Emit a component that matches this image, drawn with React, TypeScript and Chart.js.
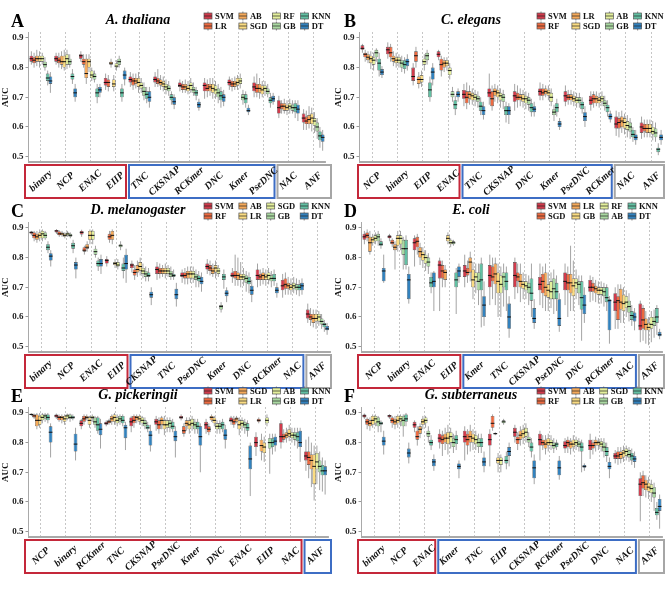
import React, { useEffect, useRef } from "react";
import { Chart, registerables } from "chart.js";
Chart.register(...registerables);

// ---------- shared data ----------
const yTicks = [0.5, 0.6, 0.7, 0.8, 0.9];
const yMin = 0.482;
const yMax = 0.92;
const palette = ["#d23a4b", "#ee6a40", "#f6aa5a", "#fbdc82", "#e4f09c", "#aad9a1", "#62c0a3", "#3282be"];
const bandPalette: Record<string, string> = { red: "#c4283a", blue: "#3d6dc4", gray: "#a6a6a6" };

// box tuples: [whiskerLow, q1, median, q3, whiskerHigh]
// ---------- Panel A ----------
const letterA = "A";
const titleA = "A. thaliana";
const clsA = ["SVM", "LR", "AB", "SGD", "RF", "GB", "KNN", "DT"];
const featA = ["binary", "NCP", "ENAC", "EIIP", "TNC", "CKSNAP", "RCKmer", "DNC", "Kmer", "PseDNC", "NAC", "ANF"];
const bandsA: [number, string][] = [[4, "red"], [6, "blue"], [2, "gray"]];
const boxesA = [
  [[0.81,0.82,0.83,0.84,0.855],[0.80,0.815,0.825,0.835,0.85],[0.805,0.82,0.83,0.84,0.86],[0.80,0.82,0.83,0.84,0.855],[0.81,0.82,0.83,0.84,0.85],[0.79,0.80,0.81,0.82,0.835],[0.74,0.755,0.765,0.78,0.79],[0.715,0.745,0.755,0.77,0.785]],
  [[0.81,0.82,0.83,0.84,0.85],[0.80,0.815,0.825,0.835,0.85],[0.795,0.81,0.82,0.84,0.855],[0.79,0.80,0.82,0.84,0.86],[0.795,0.81,0.83,0.845,0.86],[0.80,0.81,0.82,0.83,0.845],[0.745,0.76,0.77,0.78,0.795],[0.685,0.70,0.715,0.73,0.745]],
  [[0.82,0.83,0.84,0.845,0.855],[0.80,0.81,0.82,0.83,0.845],[0.745,0.765,0.78,0.83,0.845],[0.785,0.80,0.82,0.83,0.845],[0.755,0.765,0.775,0.79,0.80],[0.75,0.76,0.77,0.78,0.79],[0.68,0.70,0.715,0.73,0.745],[0.70,0.715,0.725,0.735,0.745]],
  [[0.725,0.74,0.75,0.765,0.78],[0.72,0.735,0.75,0.76,0.775],[0.80,0.81,0.815,0.82,0.83],[0.72,0.735,0.745,0.76,0.775],[0.79,0.80,0.805,0.815,0.825],[0.80,0.81,0.82,0.83,0.84],[0.685,0.70,0.715,0.73,0.745],[0.74,0.76,0.775,0.79,0.80]],
  [[0.735,0.75,0.76,0.77,0.785],[0.725,0.74,0.755,0.765,0.78],[0.73,0.745,0.755,0.765,0.78],[0.715,0.735,0.75,0.765,0.785],[0.715,0.73,0.74,0.75,0.765],[0.69,0.705,0.72,0.735,0.75],[0.68,0.695,0.71,0.72,0.735],[0.665,0.685,0.70,0.72,0.735]],
  [[0.735,0.75,0.76,0.77,0.785],[0.735,0.745,0.755,0.765,0.795],[0.725,0.74,0.75,0.76,0.775],[0.72,0.735,0.745,0.755,0.77],[0.71,0.725,0.735,0.745,0.76],[0.705,0.72,0.73,0.74,0.755],[0.675,0.69,0.70,0.71,0.72],[0.66,0.675,0.685,0.70,0.71]],
  [[0.72,0.735,0.74,0.75,0.76],[0.715,0.725,0.735,0.745,0.755],[0.715,0.725,0.735,0.745,0.76],[0.71,0.72,0.73,0.74,0.755],[0.715,0.725,0.74,0.75,0.765],[0.705,0.715,0.725,0.735,0.75],[0.69,0.705,0.715,0.725,0.735],[0.655,0.665,0.675,0.685,0.695]],
  [[0.695,0.72,0.74,0.75,0.765],[0.70,0.72,0.73,0.745,0.76],[0.705,0.72,0.735,0.745,0.765],[0.695,0.715,0.73,0.745,0.765],[0.695,0.71,0.725,0.74,0.755],[0.68,0.70,0.715,0.73,0.745],[0.665,0.69,0.705,0.72,0.735],[0.67,0.685,0.70,0.71,0.725]],
  [[0.725,0.74,0.75,0.76,0.77],[0.72,0.735,0.745,0.755,0.765],[0.725,0.735,0.745,0.755,0.77],[0.725,0.74,0.75,0.765,0.775],[0.73,0.745,0.755,0.765,0.78],[0.675,0.69,0.70,0.71,0.725],[0.665,0.68,0.695,0.71,0.72],[0.64,0.65,0.655,0.665,0.675]],
  [[0.70,0.72,0.735,0.75,0.77],[0.70,0.715,0.73,0.745,0.78],[0.695,0.715,0.73,0.745,0.765],[0.70,0.71,0.725,0.74,0.755],[0.705,0.72,0.73,0.74,0.755],[0.70,0.71,0.72,0.73,0.745],[0.665,0.68,0.69,0.70,0.715],[0.675,0.685,0.695,0.705,0.715]],
  [[0.63,0.645,0.665,0.69,0.705],[0.645,0.66,0.67,0.68,0.69],[0.645,0.655,0.67,0.68,0.695],[0.64,0.655,0.665,0.675,0.69],[0.645,0.66,0.67,0.68,0.695],[0.645,0.655,0.665,0.675,0.69],[0.63,0.65,0.665,0.68,0.69],[0.62,0.645,0.66,0.675,0.69]],
  [[0.59,0.615,0.63,0.645,0.66],[0.59,0.61,0.62,0.635,0.655],[0.595,0.61,0.625,0.64,0.67],[0.585,0.61,0.63,0.645,0.665],[0.58,0.605,0.62,0.63,0.65],[0.56,0.585,0.60,0.615,0.63],[0.53,0.555,0.57,0.585,0.60],[0.52,0.55,0.565,0.575,0.59]],
];

// ---------- Panel B ----------
const letterB = "B";
const titleB = "C. elegans";
const clsB = ["SVM", "RF", "LR", "SGD", "AB", "GB", "KNN", "DT"];
const featB = ["NCP", "binary", "EIIP", "ENAC", "TNC", "CKSNAP", "DNC", "Kmer", "PseDNC", "RCKmer", "NAC", "ANF"];
const bandsB: [number, string][] = [[4, "red"], [6, "blue"], [2, "gray"]];
const boxesB = [
  [[0.85,0.86,0.865,0.875,0.88],[0.82,0.835,0.845,0.85,0.86],[0.815,0.825,0.835,0.845,0.855],[0.795,0.815,0.83,0.84,0.855],[0.79,0.81,0.825,0.835,0.85],[0.82,0.835,0.85,0.86,0.865],[0.77,0.79,0.815,0.83,0.85],[0.765,0.775,0.785,0.795,0.805]],
  [[0.83,0.845,0.86,0.87,0.885],[0.82,0.835,0.85,0.87,0.88],[0.805,0.82,0.83,0.84,0.855],[0.80,0.815,0.825,0.835,0.85],[0.80,0.815,0.825,0.835,0.845],[0.785,0.80,0.815,0.825,0.84],[0.78,0.795,0.81,0.825,0.835],[0.79,0.805,0.82,0.83,0.845]],
  [[0.74,0.755,0.77,0.80,0.815],[0.80,0.82,0.84,0.855,0.87],[0.73,0.745,0.76,0.77,0.785],[0.735,0.75,0.76,0.775,0.79],[0.79,0.81,0.82,0.83,0.845],[0.81,0.825,0.84,0.85,0.86],[0.685,0.70,0.725,0.75,0.77],[0.74,0.76,0.785,0.80,0.815]],
  [[0.825,0.835,0.845,0.855,0.86],[0.77,0.79,0.81,0.83,0.84],[0.785,0.80,0.815,0.825,0.835],[0.79,0.805,0.815,0.825,0.835],[0.76,0.775,0.79,0.80,0.815],[0.685,0.70,0.71,0.72,0.735],[0.64,0.66,0.675,0.69,0.705],[0.685,0.70,0.71,0.72,0.73]],
  [[0.67,0.695,0.71,0.725,0.745],[0.66,0.68,0.70,0.72,0.75],[0.675,0.695,0.71,0.72,0.74],[0.675,0.69,0.705,0.715,0.73],[0.67,0.69,0.70,0.71,0.725],[0.665,0.685,0.695,0.705,0.72],[0.64,0.655,0.67,0.685,0.70],[0.625,0.64,0.655,0.67,0.685]],
  [[0.675,0.70,0.715,0.73,0.78],[0.655,0.67,0.695,0.72,0.74],[0.685,0.705,0.72,0.73,0.745],[0.68,0.70,0.715,0.725,0.74],[0.665,0.69,0.705,0.715,0.73],[0.66,0.685,0.70,0.71,0.725],[0.615,0.64,0.655,0.67,0.685],[0.61,0.64,0.655,0.67,0.68]],
  [[0.655,0.685,0.705,0.72,0.745],[0.665,0.69,0.70,0.715,0.74],[0.67,0.69,0.70,0.71,0.73],[0.665,0.685,0.695,0.71,0.725],[0.66,0.68,0.695,0.705,0.72],[0.655,0.675,0.69,0.70,0.715],[0.635,0.65,0.665,0.68,0.695],[0.635,0.65,0.66,0.67,0.685]],
  [[0.69,0.705,0.72,0.73,0.75],[0.69,0.705,0.715,0.73,0.745],[0.70,0.71,0.72,0.73,0.74],[0.69,0.705,0.715,0.725,0.74],[0.67,0.685,0.70,0.715,0.73],[0.62,0.64,0.65,0.66,0.675],[0.635,0.65,0.665,0.68,0.695],[0.59,0.60,0.61,0.62,0.63]],
  [[0.67,0.685,0.705,0.72,0.74],[0.675,0.69,0.70,0.71,0.725],[0.675,0.69,0.70,0.71,0.725],[0.67,0.685,0.695,0.705,0.72],[0.665,0.68,0.69,0.70,0.715],[0.665,0.68,0.69,0.70,0.715],[0.645,0.66,0.675,0.685,0.70],[0.60,0.62,0.635,0.65,0.67]],
  [[0.655,0.675,0.69,0.705,0.72],[0.665,0.68,0.695,0.71,0.72],[0.67,0.68,0.695,0.705,0.72],[0.665,0.68,0.69,0.70,0.715],[0.67,0.685,0.695,0.705,0.72],[0.655,0.67,0.68,0.69,0.705],[0.635,0.65,0.665,0.675,0.69],[0.615,0.625,0.635,0.645,0.655]],
  [[0.57,0.595,0.61,0.635,0.655],[0.565,0.595,0.615,0.63,0.65],[0.58,0.60,0.62,0.635,0.655],[0.575,0.595,0.615,0.63,0.645],[0.565,0.59,0.605,0.62,0.64],[0.56,0.585,0.60,0.615,0.63],[0.55,0.565,0.575,0.59,0.60],[0.54,0.555,0.565,0.575,0.59]],
  [[0.56,0.58,0.60,0.615,0.635],[0.565,0.585,0.595,0.61,0.625],[0.565,0.58,0.595,0.61,0.625],[0.565,0.58,0.595,0.61,0.625],[0.555,0.575,0.585,0.60,0.62],[0.55,0.565,0.58,0.595,0.615],[0.505,0.515,0.525,0.53,0.545],[0.54,0.555,0.565,0.575,0.59]],
];

// ---------- Panel C ----------
const letterC = "C";
const titleC = "D. melanogaster";
const clsC = ["SVM", "RF", "AB", "LR", "SGD", "GB", "KNN", "DT"];
const featC = ["binary", "NCP", "ENAC", "EIIP", "CKSNAP", "TNC", "PseDNC", "Kmer", "DNC", "RCKmer", "NAC", "ANF"];
const bandsC: [number, string][] = [[4, "red"], [7, "blue"], [1, "gray"]];
const boxesC = [
  [[0.875,0.88,0.885,0.888,0.89],[0.855,0.865,0.875,0.885,0.89],[0.85,0.86,0.87,0.88,0.89],[0.855,0.865,0.875,0.885,0.895],[0.855,0.865,0.88,0.89,0.895],[0.86,0.865,0.875,0.885,0.89],[0.815,0.825,0.835,0.845,0.855],[0.77,0.79,0.805,0.815,0.825]],
  [[0.88,0.885,0.89,0.893,0.896],[0.87,0.875,0.88,0.888,0.892],[0.87,0.875,0.88,0.885,0.89],[0.865,0.87,0.875,0.88,0.885],[0.87,0.875,0.88,0.885,0.89],[0.865,0.87,0.875,0.88,0.885],[0.815,0.83,0.84,0.85,0.86],[0.73,0.76,0.775,0.785,0.80]],
  [[0.87,0.878,0.885,0.89,0.894],[0.81,0.82,0.825,0.835,0.84],[0.82,0.83,0.835,0.845,0.855],[0.845,0.86,0.875,0.89,0.895],[0.845,0.86,0.875,0.89,0.895],[0.80,0.81,0.82,0.83,0.84],[0.755,0.77,0.78,0.79,0.80],[0.745,0.77,0.78,0.795,0.81]],
  [[0.77,0.78,0.79,0.795,0.805],[0.85,0.86,0.87,0.88,0.89],[0.845,0.86,0.875,0.89,0.895],[0.765,0.775,0.78,0.785,0.795],[0.76,0.77,0.775,0.785,0.795],[0.825,0.835,0.84,0.845,0.855],[0.73,0.755,0.765,0.78,0.80],[0.715,0.76,0.78,0.81,0.83]],
  [[0.75,0.765,0.775,0.78,0.79],[0.725,0.74,0.75,0.76,0.775],[0.735,0.75,0.76,0.775,0.79],[0.74,0.755,0.77,0.785,0.80],[0.73,0.745,0.755,0.765,0.78],[0.72,0.735,0.745,0.755,0.77],[0.72,0.735,0.74,0.75,0.765],[0.64,0.665,0.675,0.685,0.70]],
  [[0.725,0.745,0.76,0.77,0.785],[0.73,0.745,0.755,0.765,0.78],[0.735,0.745,0.755,0.765,0.775],[0.73,0.745,0.755,0.765,0.78],[0.735,0.745,0.755,0.765,0.775],[0.725,0.735,0.745,0.755,0.77],[0.725,0.735,0.74,0.745,0.76],[0.635,0.66,0.675,0.695,0.715]],
  [[0.715,0.735,0.74,0.75,0.76],[0.71,0.73,0.74,0.75,0.765],[0.71,0.73,0.745,0.755,0.77],[0.715,0.73,0.745,0.755,0.77],[0.715,0.73,0.745,0.755,0.77],[0.70,0.725,0.735,0.745,0.76],[0.70,0.72,0.73,0.74,0.755],[0.685,0.71,0.72,0.735,0.75]],
  [[0.745,0.76,0.77,0.78,0.795],[0.74,0.755,0.765,0.775,0.79],[0.735,0.745,0.755,0.765,0.78],[0.73,0.75,0.765,0.775,0.79],[0.735,0.745,0.755,0.765,0.775],[0.615,0.625,0.635,0.64,0.65],[0.695,0.725,0.735,0.745,0.76],[0.65,0.67,0.68,0.69,0.70]],
  [[0.715,0.735,0.74,0.75,0.765],[0.705,0.73,0.74,0.755,0.81],[0.705,0.725,0.74,0.75,0.80],[0.70,0.725,0.735,0.745,0.785],[0.705,0.725,0.735,0.745,0.765],[0.685,0.715,0.73,0.74,0.755],[0.68,0.71,0.72,0.735,0.75],[0.65,0.675,0.69,0.705,0.725]],
  [[0.70,0.725,0.74,0.76,0.78],[0.705,0.725,0.735,0.745,0.76],[0.71,0.725,0.74,0.75,0.765],[0.705,0.725,0.735,0.745,0.76],[0.71,0.725,0.74,0.75,0.765],[0.70,0.72,0.73,0.74,0.755],[0.705,0.72,0.73,0.745,0.76],[0.665,0.68,0.69,0.70,0.715]],
  [[0.665,0.69,0.705,0.725,0.745],[0.675,0.695,0.71,0.73,0.75],[0.675,0.695,0.705,0.715,0.735],[0.675,0.69,0.70,0.71,0.73],[0.68,0.695,0.705,0.715,0.735],[0.675,0.69,0.70,0.71,0.73],[0.67,0.69,0.70,0.71,0.725],[0.675,0.69,0.705,0.715,0.73]],
  [[0.58,0.595,0.61,0.625,0.645],[0.57,0.59,0.60,0.61,0.63],[0.565,0.58,0.595,0.61,0.625],[0.56,0.585,0.595,0.61,0.625],[0.57,0.585,0.60,0.61,0.62],[0.56,0.575,0.585,0.595,0.61],[0.55,0.565,0.575,0.58,0.59],[0.54,0.555,0.56,0.57,0.58]],
];

// ---------- Panel D ----------
const letterD = "D";
const titleD = "E. coli";
const clsD = ["SVM", "SGD", "LR", "GB", "RF", "AB", "KNN", "DT"];
const featD = ["NCP", "binary", "ENAC", "EIIP", "Kmer", "TNC", "CKSNAP", "PseDNC", "DNC", "RCKmer", "NAC", "ANF"];
const bandsD: [number, string][] = [[4, "red"], [7, "blue"], [1, "gray"]];
const boxesD = [
  [[0.845,0.86,0.87,0.88,0.89],[0.855,0.865,0.875,0.885,0.895],[0.81,0.82,0.85,0.87,0.89],[0.84,0.85,0.86,0.87,0.88],[0.845,0.855,0.865,0.875,0.885],[0.84,0.855,0.87,0.88,0.89],[0.83,0.84,0.845,0.855,0.865],[0.715,0.72,0.755,0.765,0.81]],
  [[0.855,0.865,0.87,0.875,0.88],[0.835,0.845,0.85,0.86,0.865],[0.76,0.825,0.835,0.845,0.855],[0.82,0.84,0.865,0.875,0.89],[0.825,0.845,0.865,0.875,0.89],[0.76,0.81,0.83,0.86,0.87],[0.76,0.775,0.83,0.86,0.875],[0.645,0.66,0.725,0.745,0.77]],
  [[0.77,0.825,0.85,0.865,0.875],[0.81,0.835,0.855,0.87,0.88],[0.775,0.80,0.82,0.835,0.85],[0.765,0.79,0.81,0.82,0.835],[0.755,0.78,0.80,0.81,0.825],[0.745,0.77,0.785,0.80,0.815],[0.68,0.70,0.715,0.735,0.75],[0.62,0.70,0.72,0.75,0.755]],
  [[0.62,0.73,0.775,0.79,0.80],[0.70,0.73,0.755,0.775,0.79],[0.70,0.725,0.75,0.76,0.775],[0.845,0.855,0.865,0.875,0.885],[0.835,0.845,0.85,0.86,0.865],[0.84,0.845,0.85,0.855,0.86],[0.61,0.70,0.725,0.75,0.765],[0.715,0.735,0.755,0.77,0.78]],
  [[0.70,0.735,0.755,0.775,0.81],[0.715,0.74,0.75,0.765,0.79],[0.72,0.75,0.785,0.80,0.82],[0.66,0.70,0.725,0.76,0.785],[0.68,0.72,0.735,0.75,0.78],[0.64,0.69,0.72,0.75,0.78],[0.565,0.69,0.725,0.78,0.80],[0.57,0.60,0.64,0.67,0.72]],
  [[0.64,0.70,0.74,0.775,0.81],[0.66,0.72,0.735,0.77,0.80],[0.64,0.71,0.745,0.78,0.80],[0.60,0.68,0.72,0.75,0.78],[0.60,0.68,0.71,0.74,0.77],[0.635,0.70,0.735,0.75,0.78],[0.62,0.69,0.72,0.75,0.77],[0.53,0.56,0.60,0.645,0.67]],
  [[0.66,0.70,0.74,0.785,0.80],[0.68,0.72,0.735,0.75,0.78],[0.65,0.70,0.72,0.745,0.78],[0.66,0.695,0.71,0.72,0.75],[0.66,0.69,0.705,0.72,0.745],[0.64,0.68,0.70,0.715,0.74],[0.60,0.655,0.68,0.73,0.78],[0.56,0.58,0.595,0.63,0.66]],
  [[0.64,0.69,0.71,0.735,0.78],[0.63,0.68,0.72,0.745,0.77],[0.62,0.67,0.70,0.75,0.78],[0.62,0.665,0.69,0.71,0.75],[0.63,0.66,0.685,0.72,0.75],[0.61,0.66,0.695,0.73,0.76],[0.62,0.66,0.685,0.715,0.74],[0.55,0.57,0.595,0.66,0.68]],
  [[0.64,0.69,0.72,0.75,0.78],[0.60,0.69,0.715,0.745,0.77],[0.62,0.68,0.715,0.745,0.84],[0.62,0.67,0.705,0.73,0.79],[0.66,0.695,0.715,0.73,0.76],[0.64,0.68,0.71,0.72,0.74],[0.52,0.625,0.665,0.72,0.74],[0.58,0.61,0.64,0.675,0.70]],
  [[0.65,0.685,0.70,0.725,0.74],[0.655,0.685,0.70,0.715,0.735],[0.65,0.68,0.695,0.705,0.725],[0.645,0.675,0.69,0.70,0.72],[0.645,0.675,0.69,0.70,0.72],[0.635,0.67,0.685,0.70,0.715],[0.62,0.65,0.665,0.70,0.71],[0.51,0.555,0.655,0.66,0.67]],
  [[0.56,0.62,0.65,0.68,0.70],[0.56,0.59,0.655,0.67,0.71],[0.58,0.625,0.65,0.695,0.71],[0.58,0.62,0.645,0.675,0.70],[0.60,0.63,0.65,0.67,0.69],[0.585,0.615,0.635,0.655,0.68],[0.57,0.59,0.605,0.62,0.64],[0.555,0.585,0.60,0.615,0.63]],
  [[0.515,0.555,0.57,0.645,0.655],[0.52,0.56,0.59,0.63,0.64],[0.51,0.555,0.575,0.595,0.62],[0.505,0.555,0.565,0.58,0.60],[0.515,0.56,0.575,0.60,0.62],[0.53,0.57,0.585,0.60,0.625],[0.54,0.58,0.60,0.63,0.64],[0.525,0.535,0.54,0.55,0.56]],
];

// ---------- Panel E ----------
const letterE = "E";
const titleE = "G. pickeringii";
const clsE = ["SVM", "RF", "SGD", "LR", "AB", "GB", "KNN", "DT"];
const featE = ["NCP", "binary", "RCKmer", "TNC", "CKSNAP", "PseDNC", "Kmer", "DNC", "ENAC", "EIIP", "NAC", "ANF"];
const bandsE: [number, string][] = [[11, "red"], [1, "blue"]];
const boxesE = [
  [[0.89,0.893,0.895,0.897,0.899],[0.88,0.885,0.89,0.895,0.898],[0.845,0.855,0.875,0.895,0.90],[0.85,0.86,0.875,0.89,0.90],[0.865,0.875,0.885,0.895,0.90],[0.87,0.88,0.89,0.895,0.90],[0.865,0.875,0.885,0.895,0.90],[0.75,0.80,0.835,0.855,0.865]],
  [[0.88,0.885,0.89,0.895,0.898],[0.87,0.875,0.885,0.89,0.895],[0.865,0.875,0.885,0.89,0.895],[0.86,0.87,0.88,0.89,0.895],[0.875,0.88,0.89,0.895,0.898],[0.87,0.88,0.885,0.895,0.898],[0.875,0.88,0.885,0.89,0.895],[0.74,0.77,0.795,0.83,0.85]],
  [[0.845,0.855,0.865,0.875,0.88],[0.86,0.87,0.88,0.89,0.895],[0.875,0.88,0.885,0.89,0.895],[0.85,0.86,0.875,0.885,0.89],[0.87,0.88,0.885,0.89,0.895],[0.85,0.86,0.87,0.885,0.89],[0.83,0.84,0.86,0.885,0.89],[0.78,0.825,0.845,0.865,0.88]],
  [[0.855,0.86,0.865,0.87,0.875],[0.86,0.865,0.87,0.875,0.88],[0.86,0.87,0.88,0.89,0.895],[0.86,0.87,0.885,0.895,0.90],[0.855,0.865,0.875,0.885,0.895],[0.86,0.87,0.88,0.89,0.895],[0.855,0.865,0.875,0.89,0.895],[0.775,0.815,0.85,0.86,0.87]],
  [[0.835,0.855,0.87,0.885,0.89],[0.85,0.865,0.875,0.89,0.895],[0.865,0.875,0.885,0.89,0.895],[0.86,0.87,0.88,0.89,0.895],[0.855,0.865,0.875,0.885,0.89],[0.845,0.855,0.865,0.875,0.885],[0.835,0.845,0.85,0.86,0.87],[0.77,0.79,0.825,0.84,0.86]],
  [[0.84,0.86,0.87,0.88,0.89],[0.83,0.845,0.86,0.875,0.885],[0.845,0.86,0.875,0.885,0.89],[0.825,0.845,0.86,0.875,0.89],[0.835,0.85,0.86,0.875,0.885],[0.835,0.85,0.865,0.875,0.885],[0.835,0.845,0.855,0.87,0.88],[0.75,0.805,0.82,0.84,0.855]],
  [[0.875,0.88,0.885,0.89,0.895],[0.82,0.83,0.84,0.855,0.865],[0.84,0.855,0.865,0.875,0.885],[0.83,0.845,0.86,0.875,0.885],[0.84,0.855,0.865,0.88,0.89],[0.83,0.845,0.86,0.87,0.88],[0.83,0.845,0.855,0.87,0.88],[0.70,0.79,0.82,0.855,0.865]],
  [[0.83,0.845,0.86,0.87,0.88],[0.825,0.835,0.845,0.855,0.865],[0.87,0.875,0.885,0.89,0.895],[0.855,0.865,0.875,0.885,0.89],[0.83,0.845,0.855,0.865,0.875],[0.83,0.845,0.855,0.865,0.875],[0.835,0.845,0.86,0.87,0.88],[0.78,0.81,0.825,0.845,0.86]],
  [[0.86,0.87,0.875,0.885,0.89],[0.85,0.86,0.87,0.88,0.89],[0.865,0.87,0.88,0.885,0.89],[0.825,0.845,0.86,0.875,0.885],[0.84,0.855,0.865,0.875,0.885],[0.83,0.85,0.86,0.87,0.88],[0.82,0.84,0.85,0.865,0.875],[0.62,0.71,0.745,0.79,0.80]],
  [[0.755,0.785,0.80,0.82,0.835],[0.865,0.87,0.875,0.88,0.885],[0.74,0.77,0.79,0.81,0.83],[0.735,0.765,0.785,0.80,0.82],[0.855,0.865,0.875,0.885,0.895],[0.695,0.78,0.80,0.815,0.83],[0.76,0.785,0.80,0.815,0.83],[0.77,0.79,0.805,0.82,0.83]],
  [[0.78,0.80,0.82,0.865,0.875],[0.80,0.81,0.82,0.83,0.845],[0.80,0.815,0.825,0.835,0.85],[0.805,0.82,0.83,0.845,0.86],[0.80,0.815,0.825,0.835,0.85],[0.79,0.81,0.825,0.835,0.85],[0.78,0.805,0.82,0.835,0.85],[0.735,0.785,0.80,0.84,0.85]],
  [[0.705,0.74,0.755,0.77,0.81],[0.68,0.725,0.75,0.77,0.82],[0.65,0.71,0.74,0.76,0.80],[0.605,0.66,0.72,0.76,0.79],[0.66,0.71,0.735,0.765,0.79],[0.64,0.70,0.72,0.74,0.77],[0.635,0.69,0.705,0.725,0.75],[0.625,0.69,0.705,0.72,0.74]],
];

// ---------- Panel F ----------
const letterF = "F";
const titleF = "G. subterraneus";
const clsF = ["SVM", "RF", "AB", "LR", "SGD", "GB", "KNN", "DT"];
const featF = ["binary", "NCP", "ENAC", "Kmer", "TNC", "EIIP", "CKSNAP", "RCKmer", "PseDNC", "DNC", "NAC", "ANF"];
const bandsF: [number, string][] = [[3, "red"], [8, "blue"], [1, "gray"]];
const boxesF = [
  [[0.88,0.885,0.89,0.895,0.898],[0.845,0.86,0.87,0.88,0.885],[0.84,0.855,0.865,0.875,0.885],[0.85,0.86,0.875,0.89,0.895],[0.855,0.865,0.88,0.89,0.895],[0.835,0.855,0.87,0.885,0.89],[0.835,0.86,0.865,0.87,0.875],[0.76,0.79,0.805,0.82,0.84]],
  [[0.88,0.885,0.89,0.893,0.896],[0.85,0.865,0.875,0.885,0.89],[0.845,0.86,0.87,0.88,0.89],[0.85,0.865,0.875,0.89,0.895],[0.855,0.87,0.88,0.89,0.895],[0.82,0.855,0.875,0.89,0.895],[0.855,0.87,0.88,0.895,0.90],[0.73,0.75,0.765,0.78,0.80]],
  [[0.835,0.85,0.86,0.87,0.875],[0.79,0.81,0.82,0.84,0.855],[0.815,0.83,0.845,0.855,0.865],[0.845,0.86,0.87,0.88,0.89],[0.85,0.865,0.875,0.885,0.89],[0.80,0.82,0.83,0.84,0.855],[0.775,0.79,0.80,0.81,0.825],[0.705,0.72,0.735,0.745,0.76]],
  [[0.78,0.80,0.815,0.83,0.845],[0.755,0.795,0.81,0.825,0.84],[0.775,0.80,0.815,0.83,0.85],[0.76,0.795,0.815,0.835,0.86],[0.78,0.80,0.82,0.835,0.85],[0.765,0.785,0.80,0.815,0.83],[0.775,0.795,0.81,0.825,0.84],[0.68,0.71,0.72,0.73,0.74]],
  [[0.74,0.80,0.82,0.84,0.855],[0.76,0.79,0.81,0.83,0.845],[0.77,0.80,0.82,0.84,0.86],[0.775,0.80,0.815,0.83,0.845],[0.775,0.795,0.81,0.825,0.84],[0.765,0.785,0.80,0.815,0.83],[0.765,0.785,0.80,0.815,0.83],[0.70,0.72,0.735,0.75,0.77]],
  [[0.72,0.79,0.81,0.83,0.845],[0.84,0.85,0.865,0.89,0.895],[0.825,0.828,0.83,0.832,0.835],[0.70,0.73,0.74,0.75,0.765],[0.70,0.725,0.74,0.75,0.76],[0.86,0.865,0.87,0.875,0.88],[0.71,0.73,0.74,0.755,0.77],[0.72,0.755,0.77,0.785,0.80]],
  [[0.80,0.82,0.835,0.85,0.86],[0.775,0.795,0.81,0.82,0.835],[0.79,0.81,0.825,0.84,0.855],[0.795,0.815,0.83,0.845,0.86],[0.80,0.82,0.835,0.85,0.865],[0.785,0.80,0.81,0.82,0.835],[0.75,0.77,0.785,0.80,0.815],[0.66,0.68,0.715,0.74,0.76]],
  [[0.74,0.79,0.81,0.83,0.84],[0.775,0.79,0.80,0.81,0.825],[0.76,0.78,0.795,0.81,0.825],[0.77,0.79,0.80,0.815,0.83],[0.775,0.79,0.80,0.81,0.825],[0.765,0.78,0.79,0.80,0.815],[0.775,0.785,0.795,0.80,0.81],[0.675,0.69,0.715,0.74,0.755]],
  [[0.765,0.78,0.79,0.805,0.815],[0.765,0.785,0.80,0.81,0.82],[0.76,0.78,0.795,0.805,0.815],[0.77,0.785,0.795,0.81,0.825],[0.775,0.79,0.80,0.81,0.82],[0.77,0.785,0.795,0.805,0.815],[0.70,0.77,0.785,0.80,0.81],[0.705,0.715,0.72,0.725,0.73]],
  [[0.745,0.775,0.79,0.81,0.83],[0.76,0.78,0.79,0.80,0.81],[0.77,0.79,0.80,0.81,0.82],[0.775,0.79,0.80,0.805,0.815],[0.77,0.785,0.795,0.805,0.815],[0.75,0.77,0.785,0.80,0.815],[0.735,0.755,0.77,0.785,0.80],[0.68,0.71,0.72,0.735,0.75]],
  [[0.73,0.745,0.755,0.765,0.775],[0.725,0.745,0.755,0.77,0.785],[0.73,0.745,0.76,0.77,0.785],[0.735,0.75,0.765,0.775,0.79],[0.74,0.755,0.77,0.78,0.79],[0.735,0.75,0.76,0.775,0.785],[0.725,0.74,0.755,0.765,0.78],[0.715,0.735,0.745,0.755,0.77]],
  [[0.535,0.62,0.66,0.68,0.70],[0.62,0.645,0.665,0.69,0.705],[0.615,0.64,0.66,0.675,0.69],[0.61,0.635,0.65,0.665,0.685],[0.60,0.63,0.645,0.66,0.675],[0.57,0.615,0.63,0.65,0.665],[0.54,0.555,0.565,0.58,0.60],[0.51,0.57,0.585,0.61,0.625]],
];

// ---------- layout (positions only) ----------
const W = 333;
const H = 200;
const panels = [
  { letter: letterA, title: titleA, cls: clsA, feat: featA, bands: bandsA, boxes: boxesA, x: 0, y: 0, area: [28.5, 325.5] },
  { letter: letterB, title: titleB, cls: clsB, feat: featB, bands: bandsB, boxes: boxesB, x: 333, y: 0, area: [26.5, 331] },
  { letter: letterC, title: titleC, cls: clsC, feat: featC, bands: bandsC, boxes: boxesC, x: 0, y: 190, area: [28.5, 330] },
  { letter: letterD, title: titleD, cls: clsD, feat: featD, bands: bandsD, boxes: boxesD, x: 333, y: 190, area: [28.5, 329.5] },
  { letter: letterE, title: titleE, cls: clsE, feat: featE, bands: bandsE, boxes: boxesE, x: 0, y: 375, area: [28.5, 328] },
  { letter: letterF, title: titleF, cls: clsF, feat: featF, bands: bandsF, boxes: boxesF, x: 333, y: 375, area: [28.5, 329.5] },
];

const SERIF = '"Liberation Serif", "Times New Roman", serif';

function makePlugin(p: any) {
  return {
    id: "boxParts",
    beforeDatasetsDraw(chart: any) {
      const ctx = chart.ctx;
      const ys = chart.scales.y;
      ctx.save();
      ctx.strokeStyle = "#9a9a9a";
      ctx.lineWidth = 0.9;
      chart.data.datasets.forEach((_: any, j: number) => {
        const meta = chart.getDatasetMeta(j);
        meta.data.forEach((bar: any, g: number) => {
          const b = p.boxes[g][j];
          const x = bar.x;
          ctx.beginPath();
          ctx.moveTo(x, ys.getPixelForValue(b[0]));
          ctx.lineTo(x, ys.getPixelForValue(b[4]));
          ctx.stroke();
        });
      });
      ctx.restore();
    },
    afterDatasetsDraw(chart: any) {
      const ctx = chart.ctx;
      const ys = chart.scales.y;
      ctx.save();
      ctx.strokeStyle = "#111";
      ctx.lineWidth = 1;
      chart.data.datasets.forEach((_: any, j: number) => {
        const meta = chart.getDatasetMeta(j);
        meta.data.forEach((bar: any, g: number) => {
          const b = p.boxes[g][j];
          const y = ys.getPixelForValue(b[2]);
          ctx.beginPath();
          ctx.moveTo(bar.x - bar.width / 2, y);
          ctx.lineTo(bar.x + bar.width / 2, y);
          ctx.stroke();
        });
      });
      ctx.restore();
    },
    afterDraw(chart: any) {
      const ctx = chart.ctx;
      const xs = chart.scales.x;
      const ys = chart.scales.y;
      ctx.save();
      // letter
      ctx.fillStyle = "#000";
      ctx.textBaseline = "alphabetic";
      ctx.textAlign = "left";
      ctx.font = `bold 18px ${SERIF}`;
      ctx.fillText(p.letter, 11, 27);
      // title
      ctx.textAlign = "center";
      ctx.font = `italic bold 14px ${SERIF}`;
      ctx.fillText(p.title, 138, 24);
      // legend
      ctx.font = `bold 8.5px ${SERIF}`;
      ctx.textAlign = "left";
      ctx.textBaseline = "middle";
      let cx = 204;
      for (let c = 0; c < 4; c++) {
        let maxW = 0;
        for (let r = 0; r < 2; r++) {
          const k = c * 2 + r;
          const ry = r === 0 ? 16 : 26;
          ctx.strokeStyle = "#555";
          ctx.lineWidth = 0.7;
          ctx.beginPath();
          ctx.moveTo(cx + 4, ry - 4.5);
          ctx.lineTo(cx + 4, ry + 4.5);
          ctx.stroke();
          ctx.fillStyle = palette[k];
          ctx.fillRect(cx, ry - 3, 8, 6);
          ctx.strokeRect(cx, ry - 3, 8, 6);
          ctx.strokeStyle = "#222";
          ctx.beginPath();
          ctx.moveTo(cx, ry);
          ctx.lineTo(cx + 8, ry);
          ctx.stroke();
          ctx.fillStyle = "#111";
          ctx.fillText(p.cls[k], cx + 11, ry + 0.5);
          maxW = Math.max(maxW, ctx.measureText(p.cls[k]).width);
        }
        cx = cx + 11 + maxW + 5;
      }
      // AUC label
      ctx.save();
      ctx.translate(6, (ys.getPixelForValue(0.5) + ys.getPixelForValue(0.9)) / 2);
      ctx.rotate(-Math.PI / 2);
      ctx.textAlign = "center";
      ctx.textBaseline = "middle";
      ctx.font = `bold 9px ${SERIF}`;
      ctx.fillStyle = "#111";
      ctx.fillText("AUC", 0, 0);
      ctx.restore();
      // bands
      const n = p.feat.length;
      const half = (xs.getPixelForValue(1) - xs.getPixelForValue(0)) / 2;
      let s = 0;
      ctx.lineWidth = 2;
      p.bands.forEach((band: [number, string]) => {
        const e = s + band[0] - 1;
        const x1 = s === 0 ? 25 : xs.getPixelForValue(s) - half + 1.5;
        const x2 = e === n - 1 ? 331 : xs.getPixelForValue(e) + half - 1.5;
        ctx.strokeStyle = bandPalette[band[1]];
        ctx.strokeRect(x1, 165, x2 - x1, 33);
        s = e + 1;
      });
      // feature labels
      ctx.font = `italic bold 10px ${SERIF}`;
      ctx.fillStyle = "#111";
      ctx.textAlign = "center";
      ctx.textBaseline = "middle";
      p.feat.forEach((f: string, i: number) => {
        ctx.save();
        ctx.translate(xs.getPixelForValue(i), 181);
        ctx.rotate(-0.74);
        ctx.fillText(f, 0, 0);
        ctx.restore();
      });
      ctx.restore();
    },
  };
}

function Panel({ p }: { p: any }) {
  const ref = useRef<HTMLCanvasElement>(null);
  useEffect(() => {
    const datasets = p.cls.map((name: string, j: number) => ({
      label: name,
      data: p.feat.map((_: string, g: number) => [p.boxes[g][j][1], p.boxes[g][j][3]]),
      backgroundColor: palette[j],
      borderColor: "rgba(55,55,55,0.9)",
      borderWidth: 0.6,
      borderSkipped: false,
      categoryPercentage: 0.88,
      barPercentage: 1.35,
    }));
    const chart = new Chart(ref.current as HTMLCanvasElement, {
      type: "bar",
      data: { labels: p.feat, datasets },
      options: {
        animation: false,
        responsive: false,
        maintainAspectRatio: false,
        devicePixelRatio: 1,
        layout: { padding: { left: 0, right: W - p.area[1], top: 32, bottom: 0 } },
        plugins: { legend: { display: false }, tooltip: { enabled: false }, title: { display: false } },
        scales: {
          x: {
            type: "category",
            offset: true,
            grid: { display: true, offset: false, drawOnChartArea: true, drawTicks: false, color: "#b8b8b8", lineWidth: 0.8 },
            border: { display: true, color: "#a9a9a9", width: 2, dash: [2, 2] },
            ticks: { display: false },
            afterFit: (s: any) => { s.height = H - 162; },
          },
          y: {
            min: yMin,
            max: yMax,
            grid: { drawOnChartArea: false, drawTicks: true, tickLength: 3, color: "#999" },
            border: { display: true, color: "#a9a9a9", width: 1 },
            ticks: { font: { family: SERIF, weight: "bold", size: 9 }, color: "#222", padding: 2 },
            afterBuildTicks: (s: any) => { s.ticks = yTicks.map((v) => ({ value: v })); },
            afterFit: (s: any) => { s.width = p.area[0]; },
          },
        },
      } as any,
      plugins: [makePlugin(p)],
    });
    return () => chart.destroy();
  }, []);
  return (
    <canvas
      ref={ref}
      width={W}
      height={H}
      style={{ position: "absolute", left: p.x, top: p.y, width: W, height: H }}
    />
  );
}

export default function App() {
  return (
    <div style={{ position: "absolute", left: 0, top: 0, width: 666, height: 599, background: "#fff", overflow: "hidden" }}>
      {panels.map((p, i) => (
        <Panel key={i} p={p} />
      ))}
    </div>
  );
}
